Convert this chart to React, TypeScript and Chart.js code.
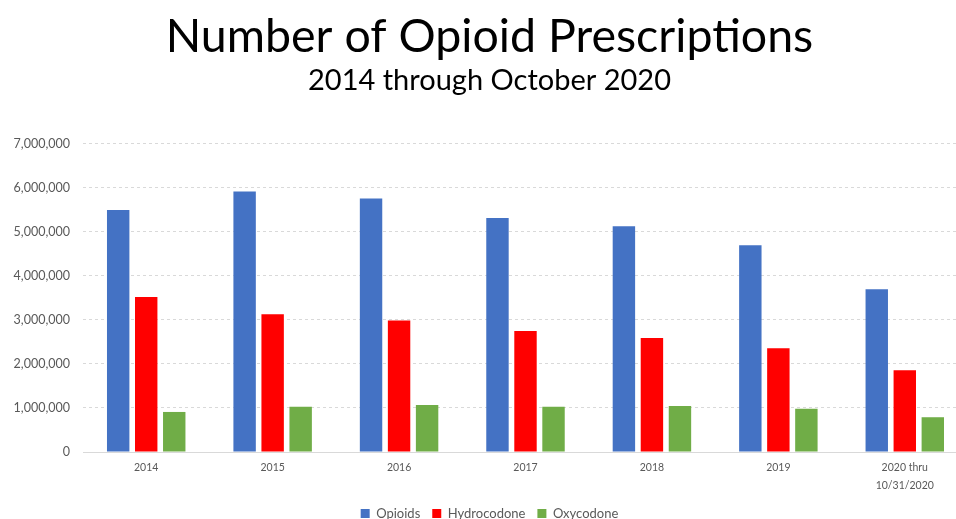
import React, { useEffect, useRef } from "react";
import { Chart, registerables } from "chart.js";

Chart.register(...registerables);

const categories: (string | string[])[] = ["2014", "2015", "2016", "2017", "2018", "2019", ["2020 thru", "10/31/2020"]];
const opioids = [5500000, 5920000, 5760000, 5320000, 5130000, 4700000, 3700000];
const hydrocodone = [3520000, 3130000, 2990000, 2750000, 2590000, 2360000, 1860000];
const oxycodone = [910000, 1030000, 1070000, 1030000, 1045000, 980000, 790000];
const yTicks = [0, 1000000, 2000000, 3000000, 4000000, 5000000, 6000000, 7000000];

const W = 986;
const H = 530;

export default function App() {
  const ref = useRef<HTMLCanvasElement | null>(null);
  useEffect(() => {
    document.documentElement.style.overflow = "hidden";
    document.body.style.overflow = "hidden";
    const ctx = ref.current!;
    const font = "Lato, 'Open Sans', sans-serif";
    const chart = new Chart(ctx, {
      type: "bar",
      data: {
        labels: categories,
        datasets: [
          { label: "Opioids", data: opioids, backgroundColor: "#4472C4" },
          { label: "Hydrocodone", data: hydrocodone, backgroundColor: "#FF0000" },
          { label: "Oxycodone", data: oxycodone, backgroundColor: "#70AD47" },
        ],
      },
      options: {
        animation: false,
        responsive: false,
        maintainAspectRatio: false,
        layout: { padding: { left: 11, right: 18, top: 0, bottom: 0 } },
        datasets: { bar: { categoryPercentage: 0.665, barPercentage: 0.8 } } as any,
        scales: {
          x: {
            grid: { display: false, drawTicks: false },
            border: { display: true, color: "#d9d9d9", width: 1 },
            ticks: {
              color: "#595959",
              font: { family: font, size: 10.5, lineHeight: 1.7 },
              padding: 7,
              maxRotation: 0,
              autoSkip: false,
            },
            afterFit: (scale: any) => {
              scale.height = 43;
            },
          },
          y: {
            min: 0,
            max: 7000000,
            afterBuildTicks: (scale: any) => {
              scale.ticks = yTicks.map((v) => ({ value: v }));
            },
            afterFit: (scale: any) => {
              scale.width = 72;
            },
            grid: { color: "#d9d9d9", drawTicks: false, lineWidth: 1 },
            border: { display: false, dash: [3, 3] },
            ticks: {
              color: "#595959",
              font: { family: font, size: 12.5 },
              padding: 13,
              callback: (v: any) => Number(v).toLocaleString("en-US"),
            },
          },
        },
        plugins: {
          title: {
            display: true,
            text: "Number of Opioid Prescriptions",
            color: "#000000",
            font: { family: font, size: 46.5, weight: "normal", lineHeight: 1.1 },
            padding: { top: 11, bottom: 1 },
          },
          subtitle: {
            display: true,
            text: "2014 through October 2020",
            color: "#000000",
            font: { family: font, size: 29, weight: "normal", lineHeight: 1.2 },
            padding: { top: 0, bottom: 46 },
          },
          legend: {
            position: "bottom",
            labels: {
              boxWidth: 9,
              boxHeight: 9,
              color: "#595959",
              font: { family: font, size: 13 },
              padding: 12,
            },
          },
          tooltip: { enabled: false },
        },
      },
    });
    return () => chart.destroy();
  }, []);
  return (
    <div style={{ position: "fixed", left: 0, top: 0, width: W, height: H }}>
      <canvas ref={ref} width={W} height={H} style={{ width: W, height: H }} />
    </div>
  );
}
